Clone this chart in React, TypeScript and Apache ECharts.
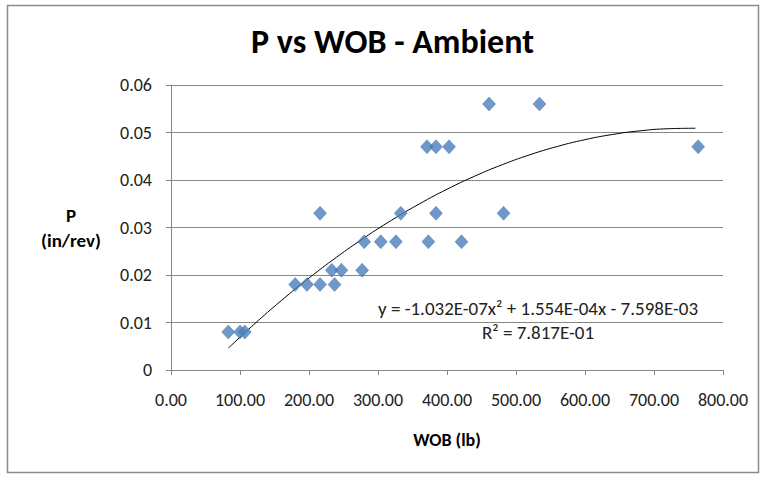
import React, { useEffect, useRef } from "react";
import * as echarts from "echarts";

const wob: number[] = [83, 100, 107, 180, 197, 216, 237, 216, 233, 247, 277, 280, 304, 326, 333, 371, 384, 403, 373, 384, 421, 461, 534, 764, 482];
const pen: number[] = [0.008, 0.008, 0.008, 0.018, 0.018, 0.018, 0.018, 0.033, 0.021, 0.021, 0.021, 0.027, 0.027, 0.027, 0.033, 0.047, 0.047, 0.047, 0.027, 0.033, 0.027, 0.056, 0.056, 0.047, 0.033];

// Trendline coefficients as printed on the chart
const coefA = -1.032e-7;
const coefB = 1.554e-4;
const coefC = -7.598e-3;
const trendX: number[] = [83, 120, 160, 200, 240, 280, 320, 360, 400, 440, 480, 520, 560, 600, 640, 680, 720, 760];

const titleText = "P vs WOB - Ambient";
const eqText = "y = -1.032E-07x\u00B2 + 1.554E-04x - 7.598E-03";
const r2Text = "R\u00B2 = 7.817E-01";

export default function App() {
  const ref = useRef<HTMLDivElement>(null);
  useEffect(() => {
    if (!ref.current) return;
    const chart = echarts.init(ref.current, null, { renderer: "svg" });
    const font = "Carlito, 'Open Sans', 'Liberation Sans', sans-serif";
    chart.setOption({
      animation: false,
      backgroundColor: "#ffffff",
      textStyle: { fontFamily: font },
      title: {
        text: titleText,
        left: 246,
        top: 19,
        textStyle: { fontSize: 34, fontWeight: "bold", color: "#000", fontFamily: font },
      },
      grid: { left: 171, right: 39, top: 85, bottom: 107 },
      xAxis: {
        type: "value",
        min: 0,
        max: 800,
        interval: 100,
        name: "WOB (lb)",
        nameLocation: "middle",
        nameGap: 61,
        nameTextStyle: { fontSize: 18, fontWeight: "bold", color: "#000" },
        axisLine: { show: true, lineStyle: { color: "#868686" } },
        axisTick: { show: true, inside: false, length: 5, lineStyle: { color: "#868686" } },
        axisLabel: { fontSize: 18, color: "#222", margin: 21, formatter: (v: number) => v.toFixed(2) },
        splitLine: { show: false },
      },
      yAxis: {
        type: "value",
        min: 0,
        max: 0.06,
        interval: 0.01,
        name: "P\n(in/rev)",
        nameLocation: "middle",
        nameRotate: 0,
        nameGap: 100,
        nameTextStyle: { fontSize: 19, fontWeight: "bold", color: "#000", lineHeight: 25, align: "center", padding: [6, 0, 0, 0] },
        axisLine: { show: true, lineStyle: { color: "#868686" } },
        axisTick: { show: true, length: 5, lineStyle: { color: "#868686" } },
        axisLabel: { fontSize: 18, color: "#222", margin: 19, formatter: (v: number) => (v === 0 ? "0" : v.toFixed(2)) },
        splitLine: { show: true, lineStyle: { color: "#868686", width: 1 } },
      },
      series: [
        {
          type: "line",
          data: trendX.map((x) => [x, coefA * x * x + coefB * x + coefC]),
          smooth: true,
          showSymbol: false,
          lineStyle: { color: "#000", width: 1 },
          z: 3,
        },
        {
          type: "scatter",
          data: wob.map((x, i) => [x, pen[i]]),
          symbol: "diamond",
          symbolSize: [13, 14],
          itemStyle: { color: "#4A7EBB", borderColor: "#3E6BA3", borderWidth: 0.5 },
          z: 4,
        },
      ],
      graphic: [
        {
          type: "rect",
          left: 5,
          top: 3,
          shape: { width: 751, height: 467 },
          style: { fill: "none", stroke: "#8c8c8c", lineWidth: 1.5 },
          silent: true,
          z: -1,
        },
        {
          type: "text",
          x: 538,
          y: 308,
          style: { text: eqText, fontSize: 19, fill: "#222", align: "center", verticalAlign: "middle", fontFamily: font },
          z: 10,
        },
        {
          type: "text",
          x: 538,
          y: 332,
          style: { text: r2Text, fontSize: 19, fill: "#222", align: "center", verticalAlign: "middle", fontFamily: font },
          z: 10,
        },
      ],
    });
    return () => chart.dispose();
  }, []);
  return <div ref={ref} style={{ position: "absolute", left: 0, top: 0, width: 762, height: 477 }} />;
}
